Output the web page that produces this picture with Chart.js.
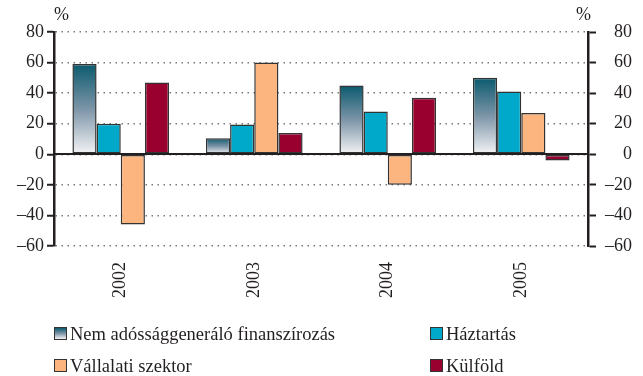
<!DOCTYPE html>
<html lang="hu">
<head>
<meta charset="UTF-8">
<title>Finanszírozás szektoronként</title>
<script src="https://cdn.jsdelivr.net/npm/chart.js"></script>
<style>
  html, body { margin: 0; padding: 0; background: #ffffff; }
  body { font-family: 'Liberation Serif', 'Times New Roman', serif; color: #231f20; }
  .wrap { position: relative; width: 643px; height: 376px; }
  .pct { position: absolute; top: 4px; font-size: 18px; }
  .legend { position: absolute; font-size: 18.5px; line-height: 20px; white-space: nowrap; }
  .legend span.box {
    display: inline-block; width: 11px; height: 11px; border: 1px solid #333;
    margin-right: 3px; vertical-align: 0px;
  }
</style>
</head>
<body>
<div class="wrap">
  <canvas id="chart" width="643" height="376"></canvas>
  <div class="pct" style="left:54px;">%</div>
  <div class="pct" style="left:576px;">%</div>
  <div class="legend" style="left:54px; top:324px;"><span class="box" style="background:linear-gradient(#0b5a6e,#7d95a8,#f2f2f4);"></span>Nem adóssággeneráló finanszírozás</div>
  <div class="legend" style="left:430px; top:324px;"><span class="box" style="background:#00a9c9;"></span>Háztartás</div>
  <div class="legend" style="left:54px; top:356px;"><span class="box" style="background:#fdb57f;"></span>Vállalati szektor</div>
  <div class="legend" style="left:430px; top:356px;"><span class="box" style="background:#99002f;"></span>Külföld</div>
</div>
<script>
const years = ['2002', '2003', '2004', '2005'];
const nemAdossag = [59, 10.5, 45, 50];
const haztartas = [20, 19.5, 28, 41];
const vallalati = [-46, 60, -20, 27];
const kulfold = [47, 14, 37, -4];
const yMin = -60, yMax = 80, yStep = 20;

const serif = "'Liberation Serif', 'Times New Roman', serif";

// vertical gradient per bar, dark at the top fading to white at the base
function nemFill(ctx) {
  const chart = ctx.chart;
  if (!chart.chartArea || ctx.type !== 'data') return '#5f7f93';
  const y = chart.scales.y;
  const top = y.getPixelForValue(ctx.raw);
  const base = y.getPixelForValue(0);
  const g = chart.ctx.createLinearGradient(0, top, 0, base);
  g.addColorStop(0, '#0b5a6e');
  g.addColorStop(0.5, '#7d95a8');
  g.addColorStop(1, '#f4f4f6');
  return g;
}

// zero line drawn over the bars
const zeroLine = {
  id: 'zeroLine',
  afterDatasetsDraw(chart) {
    const c = chart.ctx, a = chart.chartArea;
    const y = Math.round(chart.scales.y.getPixelForValue(0));
    c.save();
    c.strokeStyle = '#231f20';
    c.lineWidth = 2;
    c.beginPath();
    c.moveTo(a.left, y);
    c.lineTo(a.right, y);
    c.stroke();
    c.restore();
  }
};

const fmt = v => (v < 0 ? '\u2013' + Math.abs(v) : String(v));

const barStyle = { borderColor: '#333333', borderWidth: 1.5, borderSkipped: false };

new Chart(document.getElementById('chart'), {
  type: 'bar',
  data: {
    labels: years,
    datasets: [
      { label: 'Nem adóssággeneráló finanszírozás', data: nemAdossag, backgroundColor: nemFill, ...barStyle },
      { label: 'Háztartás', data: haztartas, backgroundColor: '#00a9c9', ...barStyle },
      { label: 'Vállalati szektor', data: vallalati, backgroundColor: '#fdb57f', ...barStyle },
      { label: 'Külföld', data: kulfold, backgroundColor: '#99002f', ...barStyle }
    ]
  },
  options: {
    responsive: false,
    animation: false,
    layout: { padding: { top: 32, left: 0, right: 11, bottom: 70 } },
    datasets: { bar: { categoryPercentage: 0.724, barPercentage: 1 } },
    plugins: { legend: { display: false }, tooltip: { enabled: false } },
    scales: {
      x: {
        grid: { display: false },
        border: { display: false },
        ticks: {
          color: '#231f20', font: { family: serif, size: 18 },
          minRotation: 90, maxRotation: 90, padding: 8
        },
        afterFit(axis) { axis.height = 60; }
      },
      y: {
        position: 'left',
        min: yMin, max: yMax,
        ticks: {
          stepSize: yStep, color: '#231f20', padding: 3,
          font: { family: serif, size: 18 }, callback: fmt
        },
        grid: {
          color: '#7a7a7a', lineWidth: 1.5,
          tickColor: '#231f20', tickWidth: 2, tickLength: 7, tickBorderDash: []
        },
        border: { display: true, color: '#231f20', width: 2.5, dash: [1.5, 4.5] },
        afterFit(axis) { axis.width = 54; }
      },
      y2: {
        position: 'right',
        min: yMin, max: yMax,
        ticks: {
          stepSize: yStep, color: '#231f20', padding: 3, crossAlign: 'far',
          font: { family: serif, size: 18 }, callback: fmt
        },
        grid: {
          drawOnChartArea: false,
          tickColor: '#231f20', tickWidth: 2, tickLength: 8
        },
        border: { display: true, color: '#231f20', width: 2.5 },
        afterFit(axis) { axis.width = 44; }
      }
    }
  },
  plugins: [zeroLine]
});
</script>
</body>
</html>
